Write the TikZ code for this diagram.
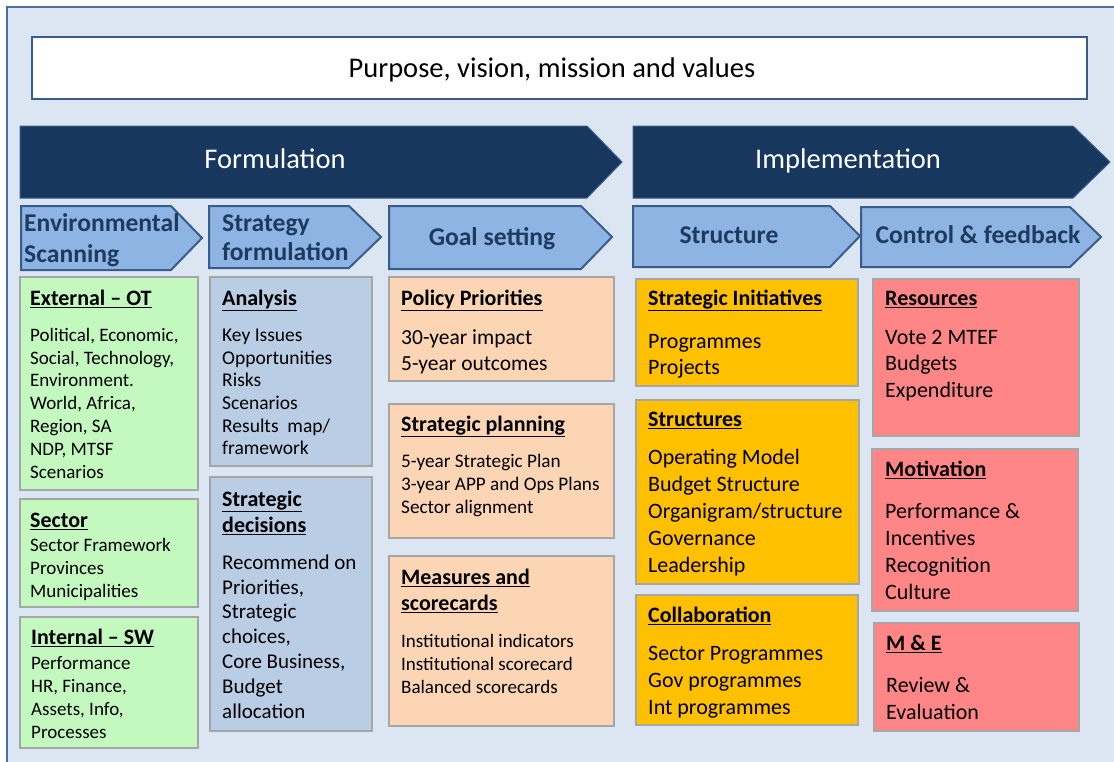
\documentclass[tikz,border=0pt]{standalone}
\usepackage{fontspec}
\setmainfont{Carlito}
\definecolor{framefill}{HTML}{DCE6F2}
\definecolor{frameedge}{HTML}{4A6FA0}
\definecolor{navy}{HTML}{17375E}
\definecolor{navyedge}{HTML}{3A5E8C}
\definecolor{skyfill}{HTML}{8DB4E2}
\definecolor{skyedge}{HTML}{385D8A}
\definecolor{skyink}{HTML}{1F3A60}
\definecolor{boxgray}{HTML}{A6A6A6}
\definecolor{greenbox}{HTML}{C3F8BF}
\definecolor{steelbox}{HTML}{B9CDE5}
\definecolor{peachbox}{HTML}{FCD5B5}
\definecolor{amberbox}{HTML}{FFC000}
\definecolor{salmonbox}{HTML}{FF8686}

\begin{document}
\begin{tikzpicture}[x=1pt,y=-1pt,line join=miter,
  box/.style={draw=boxgray,line width=1.5pt},
  ttl/.style={anchor=mid west,inner sep=0pt,yshift=-5pt,font=\fontsize{22}{26}\selectfont\bfseries},
  txt/.style={anchor=mid west,inner sep=0pt,yshift=-5pt},
  bigarrow/.style={fill=navy,draw=navyedge,line width=1pt},
  bigtext/.style={anchor=mid,inner sep=0pt,yshift=-6pt,text=white,font=\fontsize{28.5}{33}\selectfont},
  subarrow/.style={fill=skyfill,draw=skyedge,line width=2pt},
  subtext/.style={inner sep=0pt,yshift=-5pt,text=skyink,font=\fontsize{25.6}{30}\selectfont\bfseries}]
\useasboundingbox (0,0) rectangle (1114,761);
\draw[fill=framefill,draw=frameedge,line width=2pt] (7,7) rectangle (1140,790);

% purpose
\draw[fill=white,draw=skyedge,line width=2.5pt] (32,37) rectangle (1087,99);
\node[bigtext,text=black] (purpose) at (552,69.5) {Purpose, vision, mission and values};

% phases
\draw[bigarrow] (20,126) -- (587,126) -- (622,162) -- (587,198) -- (20,198) -- cycle;
\node[bigtext] (formulation) at (275,160.5) {Formulation};
\draw[bigarrow] (633,126) -- (1073,126) -- (1110,162) -- (1073,198) -- (633,198) -- cycle;
\node[bigtext] (implementation) at (848,160.5) {Implementation};

% steps
\draw[subarrow] (21,206) -- (171,206) -- (202,238) -- (171,270) -- (21,270) -- cycle;
\node[subtext,anchor=mid west] (env-a) at (24,224) {Environmental};
\node[subtext,anchor=mid west] (env-b) at (24,255) {Scanning};
\draw[subarrow] (209,206) -- (349,206) -- (381,237) -- (349,268) -- (209,268) -- cycle;
\node[subtext,anchor=mid west] (strat-a) at (222,224) {Strategy};
\node[subtext,anchor=mid west] (strat-b) at (222,253) {formulation};
\draw[subarrow] (389,206) -- (581,206) -- (612,237) -- (581,269) -- (389,269) -- cycle;
\node[subtext,anchor=mid] (goal) at (492,238) {Goal setting};
\draw[subarrow] (633,206) -- (830,206) -- (860,236) -- (830,267) -- (633,267) -- cycle;
\node[subtext,anchor=mid] (structure) at (729,236) {Structure};
\draw[subarrow] (861,207) -- (1070,207) -- (1101,237) -- (1070,267) -- (861,267) -- cycle;
\node[subtext,anchor=mid] (control) at (978,236) {Control \& feedback};

% environmental scanning
\draw[box,fill=greenbox] (20,277) rectangle (198,490);
\node[ttl] (ext) at (30,298) {\underline{External – OT}};
\foreach \t [count=\i from 0] in {{Political, Economic,},{Social, Technology,},Environment.,{World, Africa,},{Region, SA},{NDP, MTSF},Scenarios}
  \node[txt,font=\fontsize{19}{22}\selectfont] (ext-\i) at (30,{334+22.8*\i}) {\t};
\draw[box,fill=greenbox] (20,499) rectangle (198,607);
\node[ttl] (sector) at (30,520) {\underline{Sector}};
\foreach \t [count=\i from 0] in {Sector Framework,Provinces,Municipalities}
  \node[txt,font=\fontsize{19}{22}\selectfont] (sector-\i) at (30,{544+23*\i}) {\t};
\draw[box,fill=greenbox] (20,617) rectangle (198,748);
\node[ttl] (int) at (31,637) {\underline{Internal – SW}};
\foreach \t [count=\i from 0] in {Performance,{HR, Finance,},{Assets, Info,},Processes}
  \node[txt,font=\fontsize{19}{22}\selectfont] (int-\i) at (31,{662+23*\i}) {\t};

% strategy formulation
\draw[box,fill=steelbox] (210,277) rectangle (372,466);
\node[ttl] (analysis) at (222,298) {\underline{Analysis}};
\foreach \t [count=\i from 0] in {Key Issues,Opportunities,Risks,Scenarios,Results\ \ map/,framework}
  \node[txt,font=\fontsize{19.5}{22}\selectfont] (analysis-\i) at (222,{334+22.7*\i}) {\t};
\draw[box,fill=steelbox] (210,477) rectangle (372,731);
\node[ttl] (dec-a) at (222,499) {\underline{Strategic}};
\node[ttl] (dec-b) at (222,525) {\underline{decisions}};
\foreach \t [count=\i from 0] in {Recommend on,{Priorities,},Strategic,{choices,},{Core Business,},Budget,allocation}
  \node[txt,font=\fontsize{21}{25}\selectfont] (dec-\i) at (222,{562+24.8*\i}) {\t};

% goal setting
\draw[box,fill=peachbox] (389,277) rectangle (614,381);
\node[ttl] (policy) at (401,298) {\underline{Policy Priorities}};
\foreach \t [count=\i from 0] in {30-year impact,5-year outcomes}
  \node[txt,font=\fontsize{21.5}{25}\selectfont] (policy-\i) at (401,{337+26*\i}) {\t};
\draw[box,fill=peachbox] (389,404) rectangle (614,538);
\node[ttl] (planning) at (401,424) {\underline{Strategic planning}};
\foreach \t [count=\i from 0] in {5-year Strategic Plan,3-year APP and Ops Plans,Sector alignment}
  \node[txt,font=\fontsize{19.2}{22}\selectfont] (planning-\i) at (401,{460+23*\i}) {\t};
\draw[box,fill=peachbox] (389,556) rectangle (614,726);
\node[ttl] (meas-a) at (401,577) {\underline{Measures and}};
\node[ttl] (meas-b) at (401,603) {\underline{scorecards}};
\foreach \t [count=\i from 0] in {Institutional indicators,Institutional scorecard,Balanced scorecards}
  \node[txt,font=\fontsize{19}{22}\selectfont] (meas-\i) at (401,{640+23*\i}) {\t};

% structure
\draw[box,fill=amberbox] (636,279) rectangle (858,386);
\node[ttl] (init) at (648,298) {\underline{Strategic Initiatives}};
\foreach \t [count=\i from 0] in {Programmes,Projects}
  \node[txt,font=\fontsize{22}{26}\selectfont] (init-\i) at (648,{341+26.5*\i}) {\t};
\draw[box,fill=amberbox] (636,400) rectangle (859,584);
\node[ttl] (structures) at (648,419) {\underline{Structures}};
\foreach \t [count=\i from 0] in {Operating Model,Budget Structure,Organigram/structure,Governance,Leadership}
  \node[txt,font=\fontsize{22}{26}\selectfont] (structures-\i) at (648,{457+27*\i}) {\t};
\draw[box,fill=amberbox] (636,595) rectangle (858,725);
\node[ttl] (collab) at (648,615) {\underline{Collaboration}};
\foreach \t [count=\i from 0] in {Sector Programmes,Gov programmes,Int programmes}
  \node[txt,font=\fontsize{22}{26}\selectfont] (collab-\i) at (648,{653+27*\i}) {\t};

% control and feedback
\draw[box,fill=salmonbox] (873,279) rectangle (1079,436);
\node[ttl] (resources) at (885,298) {\underline{Resources}};
\foreach \t [count=\i from 0] in {Vote 2 MTEF,Budgets,Expenditure}
  \node[txt,font=\fontsize{22}{26}\selectfont] (resources-\i) at (885,{337+26.5*\i}) {\t};
\draw[box,fill=salmonbox] (872,449) rectangle (1078,611);
\node[ttl] (motivation) at (885,469) {\underline{Motivation}};
\foreach \t [count=\i from 0] in {Performance \&,Incentives,Recognition,Culture}
  \node[txt,font=\fontsize{22}{26}\selectfont] (motivation-\i) at (885,{511+27*\i}) {\t};
\draw[box,fill=salmonbox] (874,623) rectangle (1079,731);
\node[ttl] (me) at (886,643) {\underline{M \& E}};
\foreach \t [count=\i from 0] in {Review \&,Evaluation}
  \node[txt,font=\fontsize{22}{26}\selectfont] (me-\i) at (886,{685+27*\i}) {\t};
\end{tikzpicture}
\end{document}
